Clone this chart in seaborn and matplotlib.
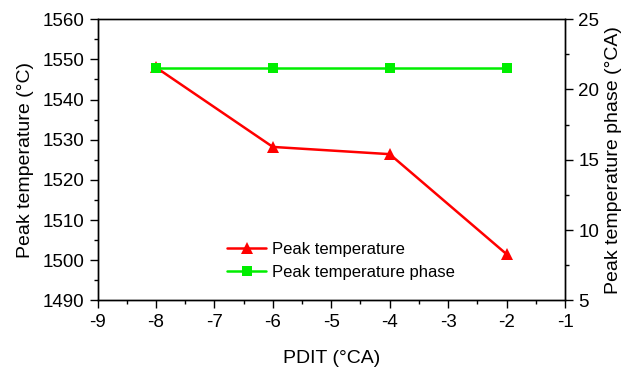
import numpy as np
import pandas as pd
import seaborn as sns
from matplotlib import pyplot as plt
from matplotlib.ticker import MultipleLocator

pdit = [-8, -6, -4, -2]
peak_temp = [1548.0, 1528.2, 1526.4, 1501.5]
peak_phase = [21.5, 21.5, 21.5, 21.5]

df = pd.DataFrame({'PDIT': pdit, 'temp': peak_temp, 'phase': peak_phase})

sns.set_style('ticks')
plt.rcParams['font.family'] = ['Liberation Sans', 'DejaVu Sans']
plt.rcParams['axes.unicode_minus'] = False
plt.rcParams['text.color'] = 'black'
plt.rcParams['axes.labelcolor'] = 'black'
plt.rcParams['xtick.color'] = 'black'
plt.rcParams['ytick.color'] = 'black'

fig, ax = plt.subplots(figsize=(6.25, 3.69), dpi=100)
fig.subplots_adjust(left=0.156, right=0.904, top=0.948, bottom=0.186)
ax2 = ax.twinx()

sns.lineplot(data=df, x='PDIT', y='temp', ax=ax, color='#ff0000', marker='^',
             markersize=8, markeredgewidth=0, linewidth=1.8, label='Peak temperature', legend=False)
sns.lineplot(data=df, x='PDIT', y='phase', ax=ax2, color='#00ee00', marker='s',
             markersize=6.5, markeredgewidth=0, linewidth=1.8, label='Peak temperature phase', legend=False)

ax.set_xlim(-9, -1)
ax.set_ylim(1490, 1560)
ax2.set_ylim(5, 25)
ax.xaxis.set_major_locator(MultipleLocator(1))
ax.xaxis.set_minor_locator(MultipleLocator(0.5))
ax.yaxis.set_major_locator(MultipleLocator(10))
ax.yaxis.set_minor_locator(MultipleLocator(5))
ax2.yaxis.set_major_locator(MultipleLocator(5))
ax2.yaxis.set_minor_locator(MultipleLocator(2.5))

for a in (ax, ax2):
    a.tick_params(which='major', length=6, width=1, labelsize=13.5, color='black', labelcolor='black')
    a.tick_params(which='minor', length=3, width=1, color='black')
    for s in a.spines.values():
        s.set_color('black')
        s.set_linewidth(1.0)
ax.spines['top'].set_color('#333333')

ax.set_xlabel('PDIT (°CA)', fontsize=14, labelpad=14, color='black')
ax.set_ylabel('Peak temperature (°C)', fontsize=14, labelpad=6, color='black')
ax2.set_ylabel('Peak temperature phase (°CA)', fontsize=14, labelpad=4, color='black')

h1, l1 = ax.get_legend_handles_labels()
h2, l2 = ax2.get_legend_handles_labels()
leg = ax.legend(h1 + h2, l1 + l2, loc='lower left', bbox_to_anchor=(0.245, 0.02), frameon=False,
                fontsize=12, handlelength=2.35, handletextpad=0.35, labelspacing=0.45)
for t in leg.get_texts():
    t.set_color('black')

plt.savefig('out.png')
